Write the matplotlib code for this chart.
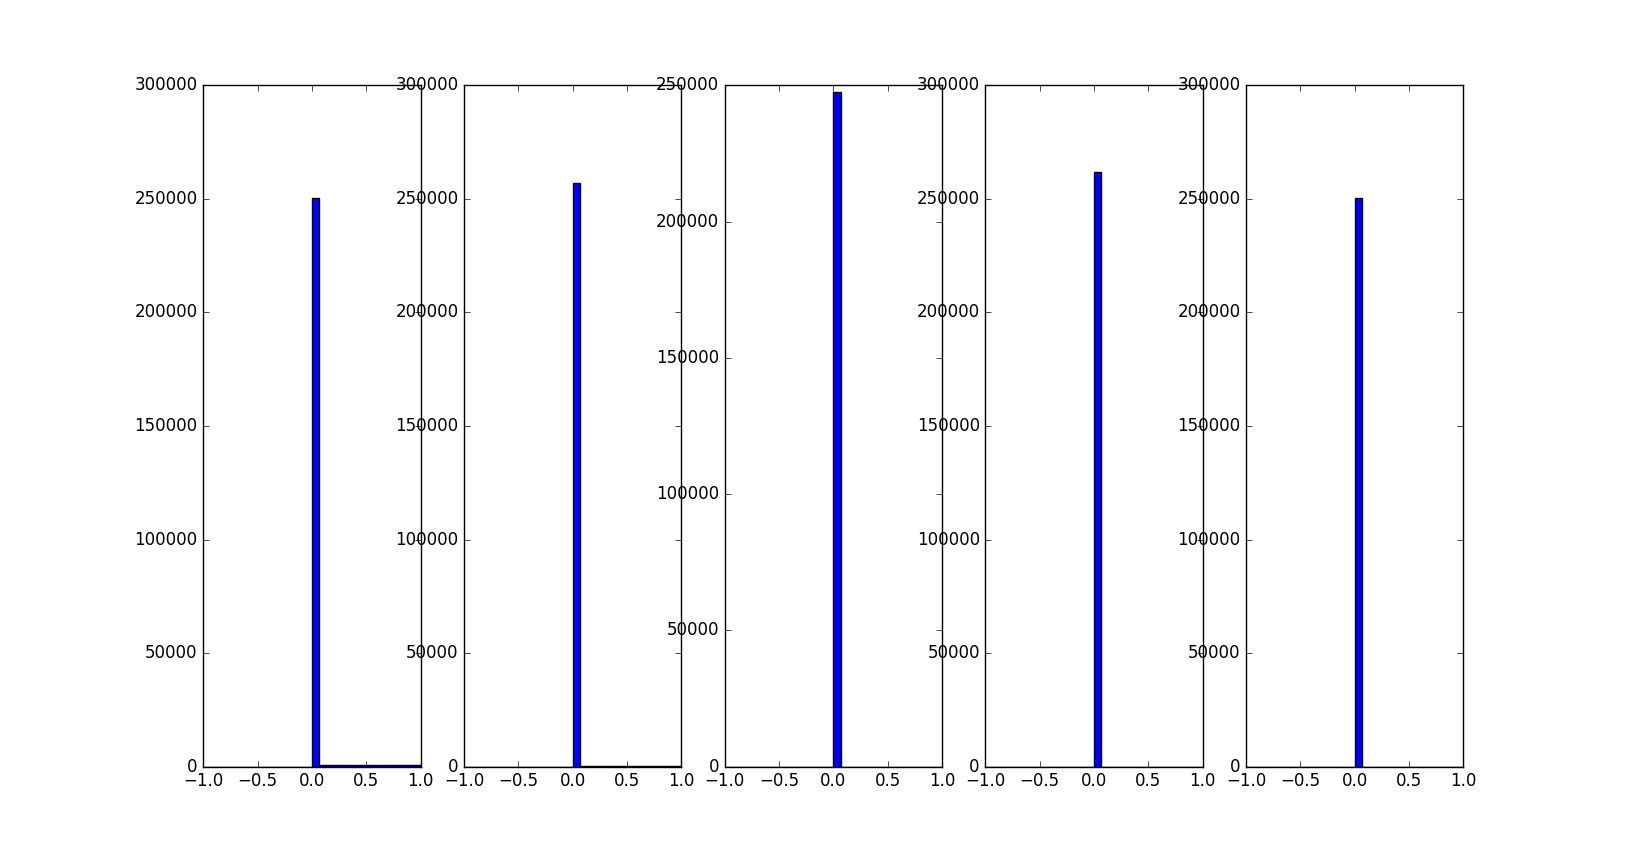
import numpy as np
import matplotlib
matplotlib.use("Agg")
import matplotlib.pyplot as plt

plt.style.use("classic")

# 30 bins over [-1, 1]; counts per bin for each panel
n_bins = 30
peak_counts = [250200, 257000, 247500, 262000, 250200]
# counts in the bins right of the peak (0.067 .. 1.0), 14 bins each
tail_counts = [
    [1000] * 14,
    [250] * 14,
    [0] * 14,
    [0] * 14,
    [0] * 14,
]


def panel_counts(peak, tail):
    counts = [0] * 15 + [peak] + list(tail)
    return counts


fig = plt.figure(figsize=(16.26, 8.52), dpi=100)
edges = np.linspace(-1, 1, n_bins + 1)
centers = (edges[:-1] + edges[1:]) / 2

for i, (peak, tail) in enumerate(zip(peak_counts, tail_counts)):
    ax = fig.add_subplot(1, 5, i + 1)
    ax.hist(centers, bins=edges, weights=panel_counts(peak, tail),
            color="blue", edgecolor="black")
    ax.set_xlim(-1, 1)
    ax.set_xticks([-1.0, -0.5, 0.0, 0.5, 1.0])

fig.savefig("out.png", dpi=100)
